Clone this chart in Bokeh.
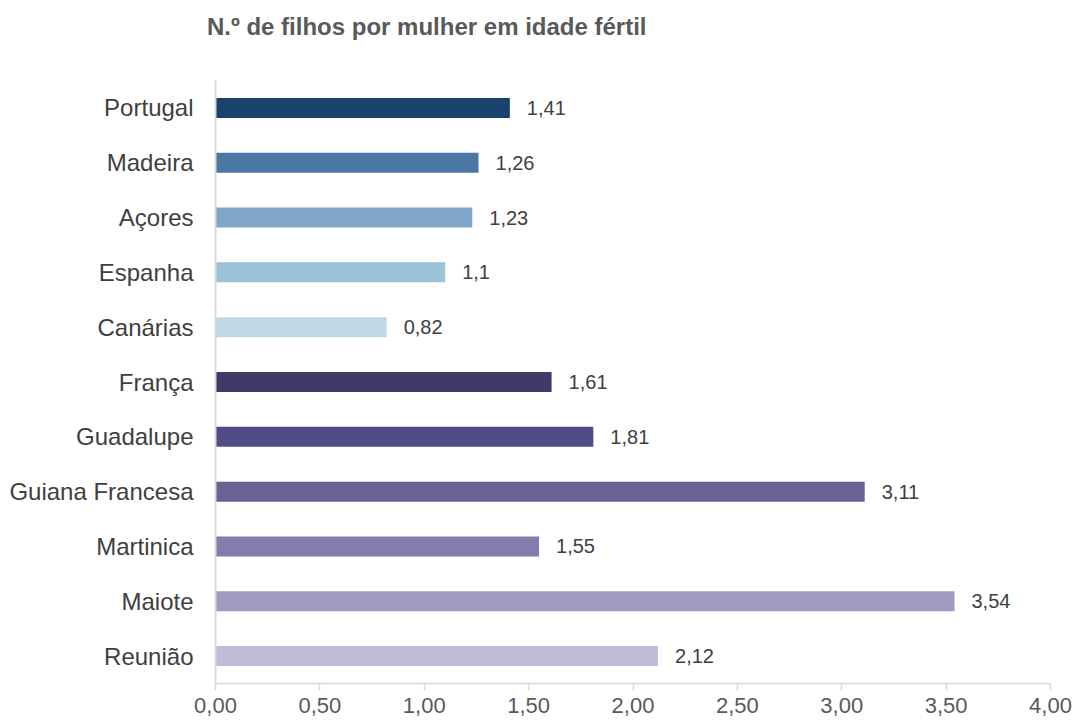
from bokeh.plotting import figure
from bokeh.models import FactorRange, Range1d, FixedTicker, ColumnDataSource, Div
from bokeh.layouts import column
from bokeh.core.properties import value
from bokeh.embed import file_html
from bokeh.resources import INLINE

categories = ["Portugal", "Madeira", "Açores", "Espanha", "Canárias", "França",
              "Guadalupe", "Guiana Francesa", "Martinica", "Maiote", "Reunião"]
values = [1.41, 1.26, 1.23, 1.1, 0.82, 1.61, 1.81, 3.11, 1.55, 3.54, 2.12]
value_labels = ["1,41", "1,26", "1,23", "1,1", "0,82", "1,61", "1,81", "3,11", "1,55", "3,54", "2,12"]
colors = ["#19436C", "#4878A3", "#7FA5C8", "#9AC3D7", "#C0D9E6", "#403A69",
          "#514C87", "#6B6194", "#847CAB", "#A09AC0", "#C0BDDB"]
tick_values = [0, 0.5, 1, 1.5, 2, 2.5, 3, 3.5, 4]
tick_labels = ["0,00", "0,50", "1,00", "1,50", "2,00", "2,50", "3,00", "3,50", "4,00"]
title_text = "N.º de filhos por mulher em idade fértil"

FONT = "Liberation Sans"

src = ColumnDataSource(dict(cat=categories, val=values, lab=value_labels, col=colors))

title_div = Div(
    text=('<div style="position:absolute; left:207px; top:13px; white-space:nowrap; '
          'font-family:\'Liberation Sans\'; font-size:24px; line-height:28px; '
          'font-weight:bold; color:#595959;">' + title_text + '</div>'),
    width=1078, height=40, margin=(0, 0, 0, 0))

p = figure(width=1078, height=684, output_backend="svg", toolbar_location=None,
           y_range=FactorRange(factors=list(reversed(categories)), range_padding=0),
           x_range=Range1d(0, 4),
           min_border_left=215, min_border_right=28, min_border_top=40, min_border_bottom=41)

p.hbar(y="cat", right="val", left=0, height=0.365, color="col", line_color=None, source=src)
p.text(x="val", y="cat", text="lab", source=src, x_offset=17, text_align="left",
       text_baseline="middle", text_font=value(FONT), text_font_size="20px",
       text_color="#404040")

p.outline_line_color = None
p.xgrid.grid_line_color = None
p.ygrid.grid_line_color = None

p.xaxis.ticker = FixedTicker(ticks=tick_values)
p.xaxis.major_label_overrides = {tv: tl for tv, tl in zip(tick_values, tick_labels)}
p.xaxis.axis_line_color = "#D9D9D9"
p.xaxis.axis_line_width = 1.5
p.xaxis.major_tick_line_color = "#D9D9D9"
p.xaxis.major_tick_line_width = 1.5
p.xaxis.major_tick_out = 7
p.xaxis.major_tick_in = 0
p.xaxis.minor_tick_line_color = None
p.xaxis.major_label_standoff = 7
p.xaxis.major_label_text_font = FONT
p.xaxis.major_label_text_font_size = "22px"
p.xaxis.major_label_text_color = "#595959"

p.yaxis.axis_line_color = "#D9D9D9"
p.yaxis.axis_line_width = 2
p.yaxis.major_tick_line_color = None
p.yaxis.minor_tick_line_color = None
p.yaxis.major_label_standoff = 16
p.yaxis.major_label_text_font = FONT
p.yaxis.major_label_text_font_size = "24px"
p.yaxis.major_label_text_color = "#404040"

layout = column(title_div, p, spacing=0)

open("out.html", "w").write(file_html(layout, INLINE))
